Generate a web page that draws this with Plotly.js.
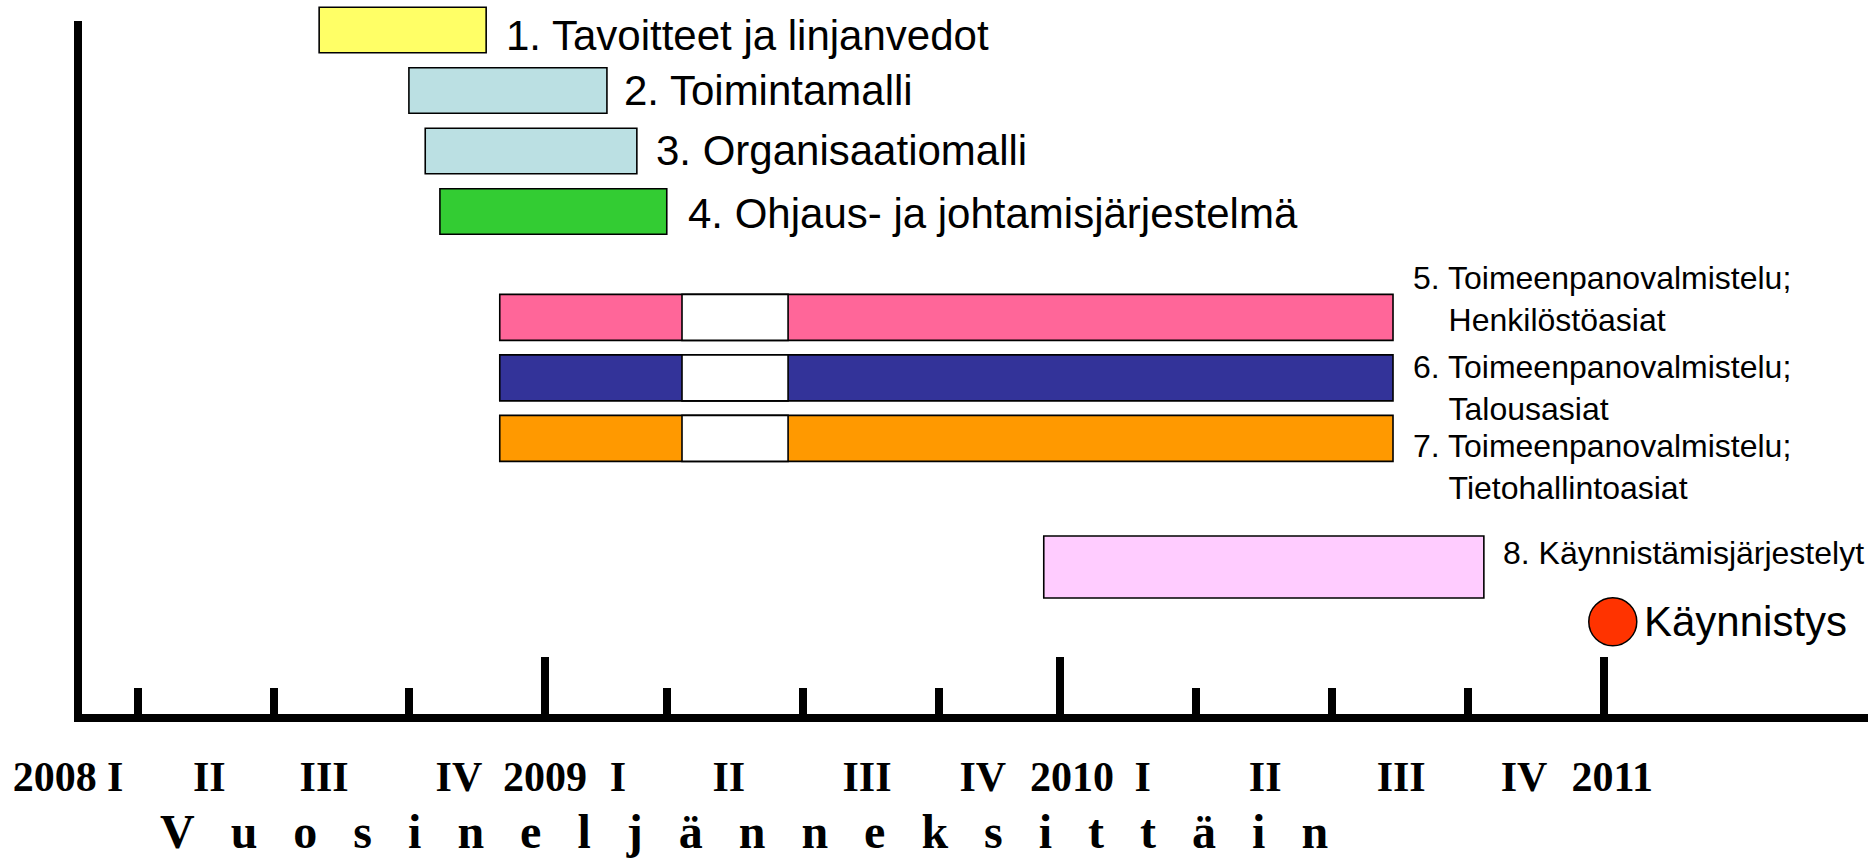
<!DOCTYPE html>
<html>
<head>
<meta charset="utf-8">
<script src="https://cdn.plot.ly/plotly-3.0.1.min.js"></script>
<style>
  html, body { margin: 0; padding: 0; background: #ffffff; }
  #chart { width: 1868px; height: 858px; }
</style>
</head>
<body>
<div id="chart"></div>
<script>
// ---------------- data ----------------
const taskNames = [
  '1. Tavoitteet ja linjanvedot',
  '2. Toimintamalli',
  '3. Organisaatiomalli',
  '4. Ohjaus- ja johtamisjärjestelmä',
  '5. Toimeenpanovalmistelu;<br>\u00a0\u00a0\u00a0\u00a0Henkilöstöasiat',
  '6. Toimeenpanovalmistelu;<br>\u00a0\u00a0\u00a0\u00a0Talousasiat',
  '7. Toimeenpanovalmistelu;<br>\u00a0\u00a0\u00a0\u00a0Tietohallintoasiat',
  '8. Käynnistämisjärjestelyt'
];
const taskRow   = [1, 2, 3, 4, 5.75, 6.75, 7.75, 9.875];
const taskStart = [2008.583, 2008.748, 2008.778, 2008.805, 2008.915, 2008.915, 2008.915, 2009.915];
const taskEnd   = [2008.890, 2009.112, 2009.167, 2009.222, 2010.557, 2010.557, 2010.557, 2010.724];
// pause (white gap) inside tasks 5-7
const pauseRow   = [5.75, 6.75, 7.75];
const pauseStart = [2009.250, 2009.250, 2009.250];
const pauseEnd   = [2009.445, 2009.445, 2009.445];
// milestone
const milestoneName = 'Käynnistys';
const milestoneX = [2010.961];
const milestoneRow = [10.78];
// axis ticks
const quarterTicks = [2008.25, 2008.5, 2008.748, 2009.222, 2009.472, 2009.722, 2010.195, 2010.445, 2010.695];
const yearTicks = [2008.998, 2009.945, 2010.945];
const tickLabelText = ['2008', 'I', 'II', 'III', 'IV', '2009', 'I', 'II', 'III', 'IV', '2010', 'I', 'II', 'III', 'IV', '2011'];
const tickLabelPos  = [2008.097, 2008.208, 2008.381, 2008.592, 2008.840, 2008.998, 2009.132, 2009.336, 2009.590, 2009.803, 2009.967, 2010.097, 2010.322, 2010.572, 2010.798, 2010.960];
const axisTitle = 'Vuosineljänneksittäin';

// ---------------- styles ----------------
const taskColors = ['#FFFF66', '#BBE0E3', '#BBE0E3', '#33CC33', '#FF6699', '#333399', '#FF9900', '#FFCCFF'];
const barThick = [0.75, 0.75, 0.75, 0.75, 0.76, 0.76, 0.76, 1.025];
const labelFontSize = [42, 42, 42, 42, 32, 32, 32, 32];
const labelXShift = [18, 15, 17, 19, 18, 18, 18, 17];
const labelYShift = [-5, 0, 1, -2, 18, -10, -29, 14];

// layout mapping (page pixels -> axis units) used only for axis ranges/domains
const W = 1868, H = 858;
const PX0 = 2, PX_PER_YEAR = 544;
const pxToYear = px => 2008 + (px - PX0) / PX_PER_YEAR;
const ROW0_PX = 30, PX_PER_ROW = 60.5;
const pxToRow = py => 1 + (py - ROW0_PX) / PX_PER_ROW;
const plotLeft = 82, axisTop = 21, plotBottom = 714;
const xRangeMain = [pxToYear(plotLeft), pxToYear(W)];
const xRangeFull = [pxToYear(0), pxToYear(W)];
const yLineRange = [pxToRow(plotBottom), pxToRow(axisTop)];
const yMarkRange = [pxToRow(plotBottom), pxToRow(0)];

const sansFont = 'Liberation Sans, Arial, sans-serif';
const serifFont = 'Liberation Serif, Times New Roman, serif';

const traces = [
  {
    type: 'bar', orientation: 'h', yaxis: 'y2',
    y: taskRow,
    x: taskEnd.map((e, i) => e - taskStart[i]),
    base: taskStart,
    width: barThick,
    marker: { color: taskColors, line: { color: '#000000', width: 1.6 } },
    hoverinfo: 'skip', showlegend: false
  },
  {
    type: 'bar', orientation: 'h', yaxis: 'y2',
    y: pauseRow,
    x: pauseEnd.map((e, i) => e - pauseStart[i]),
    base: pauseStart,
    width: barThick.slice(4, 7),
    marker: { color: '#FFFFFF', line: { color: '#000000', width: 1.6 } },
    hoverinfo: 'skip', showlegend: false
  },
  {
    type: 'scatter', mode: 'markers', yaxis: 'y2',
    x: milestoneX, y: milestoneRow,
    marker: { size: 48, color: '#FF3300', line: { color: '#000000', width: 1.5 } },
    cliponaxis: false, hoverinfo: 'skip', showlegend: false
  },
  { type: 'scatter', mode: 'markers', x: [null], y: [null], xaxis: 'x', yaxis: 'y', hoverinfo: 'skip', showlegend: false },
  { type: 'scatter', mode: 'markers', x: [null], y: [null], xaxis: 'x2', yaxis: 'y', hoverinfo: 'skip', showlegend: false },
  { type: 'scatter', mode: 'markers', x: [null], y: [null], xaxis: 'x3', yaxis: 'y', hoverinfo: 'skip', showlegend: false }
];

const annotations = taskNames.map((t, i) => ({
  xref: 'x', yref: 'y2', x: taskEnd[i], y: taskRow[i],
  text: t, showarrow: false, xanchor: 'left', yanchor: 'middle', align: 'left',
  xshift: labelXShift[i], yshift: labelYShift[i],
  font: { family: sansFont, size: labelFontSize[i], color: '#000000' }
}));
annotations.push({
  xref: 'x', yref: 'y2', x: milestoneX[0], y: milestoneRow[0],
  text: milestoneName, showarrow: false, xanchor: 'left', yanchor: 'middle',
  xshift: 29, yshift: 0,
  font: { family: sansFont, size: 42, color: '#000000' }
});
annotations.push({
  xref: 'paper', yref: 'paper', x: 158 / W, y: 0,
  text: axisTitle.split('').join('\u00a0\u00a0\u00a0'),
  showarrow: false, xanchor: 'left', yanchor: 'middle', yshift: -117,
  font: { family: serifFont, size: 48, color: '#000000', weight: 'bold' }
});

const layout = {
  width: W, height: H,
  margin: { l: 0, r: 0, t: 0, b: H - plotBottom, pad: 0 },
  paper_bgcolor: '#ffffff', plot_bgcolor: 'rgba(0,0,0,0)',
  barmode: 'overlay',
  showlegend: false,
  xaxis: {
    domain: [plotLeft / W, 1], range: xRangeMain, anchor: 'y',
    showline: true, linewidth: 8, linecolor: '#000000',
    tickmode: 'array', tickvals: quarterTicks, ticks: 'inside', ticklen: 26, tickwidth: 8, tickcolor: '#000000',
    showticklabels: false, showgrid: false, zeroline: false, fixedrange: true
  },
  xaxis2: {
    overlaying: 'x', range: xRangeMain, anchor: 'y',
    showline: false,
    tickmode: 'array', tickvals: yearTicks, ticks: 'inside', ticklen: 57, tickwidth: 8, tickcolor: '#000000',
    showticklabels: false, showgrid: false, zeroline: false, fixedrange: true
  },
  xaxis3: {
    domain: [0, 1], range: xRangeFull, anchor: 'y',
    showline: false, ticks: '',
    tickmode: 'array', tickvals: tickLabelPos, ticktext: tickLabelText, tickangle: 0,
    ticklabelstandoff: 34,
    tickfont: { family: serifFont, size: 42, color: '#000000', weight: 'bold' },
    showgrid: false, zeroline: false, fixedrange: true
  },
  yaxis: {
    domain: [0, (plotBottom - axisTop) / plotBottom],
    range: yLineRange, anchor: 'x',
    showline: true, linewidth: 8, linecolor: '#000000',
    ticks: '', showticklabels: false, showgrid: false, zeroline: false, fixedrange: true
  },
  yaxis2: {
    domain: [0, 1], range: yMarkRange, anchor: 'x',
    showline: false,
    ticks: '', showticklabels: false, showgrid: false, zeroline: false, fixedrange: true
  },
  annotations: annotations
};

Plotly.newPlot('chart', traces, layout, { staticPlot: true, displayModeBar: false });
</script>
</body>
</html>
